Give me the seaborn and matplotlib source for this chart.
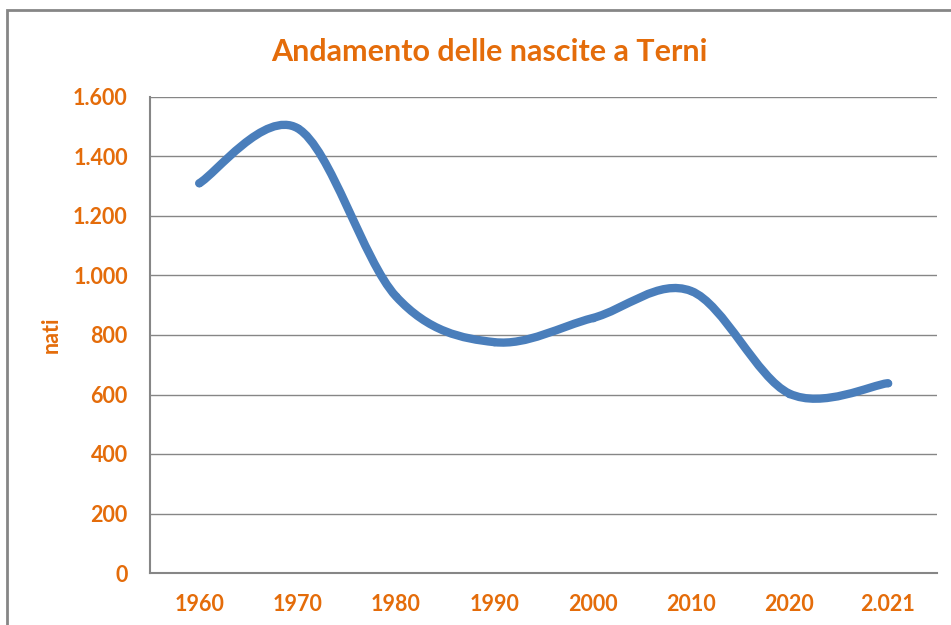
import matplotlib
matplotlib.use("Agg")
import matplotlib.pyplot as plt
from matplotlib.path import Path
from matplotlib.patches import PathPatch, Rectangle
from matplotlib.ticker import FuncFormatter
import seaborn as sns

# data
anni = ["1960", "1970", "1980", "1990", "2000", "2010", "2020", "2.021"]
nati = [1310, 1495, 930, 776, 857, 948, 603, 638]

arancio = "#E46C0A"
blu = "#4A7EBB"
grigio = "#868686"

sns.set_theme(style="white")
plt.rcParams["font.family"] = ["Lato", "DejaVu Sans"]

fig = plt.figure(figsize=(9.51, 6.25), dpi=100)
ax = fig.add_axes([150 / 951, 1 - 573 / 625, (937 - 150) / 951, (573 - 97) / 625])

# smoothed line like the spreadsheet one (Bezier through the points)
pos = list(range(len(nati)))
pts = list(zip(pos, nati))
verts = [pts[0]]
codes = [Path.MOVETO]
for i in range(len(pts) - 1):
    p0 = pts[max(i - 1, 0)]
    p1 = pts[i]
    p2 = pts[i + 1]
    p3 = pts[min(i + 2, len(pts) - 1)]
    c1 = (p1[0] + (p2[0] - p0[0]) / 6, p1[1] + (p2[1] - p0[1]) / 6)
    c2 = (p2[0] - (p3[0] - p1[0]) / 6, p2[1] - (p3[1] - p1[1]) / 6)
    verts += [c1, c2, p2]
    codes += [Path.CURVE4] * 3
ax.add_patch(PathPatch(Path(verts, codes), facecolor="none", edgecolor=blu,
                       lw=6, capstyle="round", joinstyle="round", zorder=3))
sns.scatterplot(x=pos, y=nati, ax=ax, color=blu, s=30, linewidth=0, zorder=4)

ax.set_xlim(-0.5, len(anni) - 0.5)
ax.set_ylim(0, 1600)
ax.set_yticks(range(0, 1601, 200))
ax.yaxis.set_major_formatter(FuncFormatter(lambda v, p: f"{int(v):,}".replace(",", ".")))
ax.set_xticks(pos, anni)

ax.grid(axis="y", color=grigio, lw=1)
ax.set_axisbelow(True)
for s in ["top", "right"]:
    ax.spines[s].set_visible(False)
for s in ["left", "bottom"]:
    ax.spines[s].set_color(grigio)
    ax.spines[s].set_linewidth(1.5)

ax.tick_params(axis="both", length=0, labelcolor=arancio, labelsize=15.5)
ax.tick_params(axis="x", pad=15)
ax.tick_params(axis="y", pad=16)
for lab in ax.get_xticklabels() + ax.get_yticklabels():
    lab.set_fontweight("bold")

ax.set_ylabel("nati", color=arancio, fontsize=15.5, fontweight="bold", labelpad=8)
ax.set_xlabel("")
fig.text(489 / 951, 1 - 52 / 625, "Andamento delle nascite a Terni", color=arancio,
         fontsize=22, fontweight="bold", ha="center", va="center")

# outer chart border
fig.patches.append(Rectangle((7 / 951, -0.1), 1.1, 1 - 10 / 625 + 0.1,
                             transform=fig.transFigure, fill=False,
                             edgecolor=grigio, lw=2, clip_on=False))

fig.savefig("out.png", dpi=100)
